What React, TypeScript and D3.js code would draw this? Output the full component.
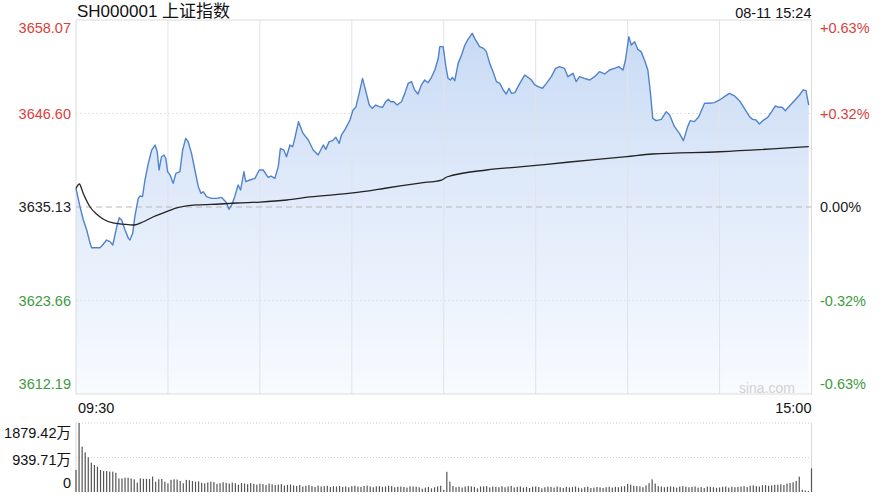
import React from "react";
import * as d3 from "d3";

// minute offsets from 09:30 (0..240, lunch break collapsed) and index values
const priceMinutes = [
  0, 1.3, 2.4, 3.5, 4.6, 5.1, 6.7, 7.8, 8.4, 10, 11.1, 12, 13.3, 14.1, 14.9, 16, 17.1, 17.6, 18.5, 19.2,
  19.8, 20.3, 20.9, 21.7, 22.5, 23.6, 24.7, 25.8, 26.5, 27.1, 27.9, 28.7, 29.3, 29.9, 30.7, 31.7, 32.6, 33.9, 34.8, 35.8,
  36.6, 37.7, 38.8, 39.9, 40.8, 41.5, 42.6, 44.2, 45.9, 47.5, 48.3, 49.1, 49.9, 50.8, 51.8, 52.9, 53.7, 54.8, 55.4, 56.7,
  58.4, 59.8, 61.1, 62.2, 62.7, 63.6, 64.9, 66, 66.7, 67.8, 68.7, 69.8, 70.7, 71.4, 72.6, 74.1, 75.8, 77.4, 79, 80.7,
  81.5, 82.6, 83.7, 84.8, 85.9, 86.6, 88, 89.4, 90.4, 91.3, 92.4, 93.5, 94.6, 95.7, 96.7, 97.8, 98.9, 100, 101.1, 101.9,
  102.7, 103.7, 104.8, 106.2, 107.3, 108.4, 109.5, 110.5, 111.6, 112.7, 113.8, 114.9, 116, 117.1, 118.2, 118.7, 119.8, 120.7, 121.4, 122.2,
  122.8, 123.6, 124.7, 125.8, 126.9, 127.9, 129.3, 130.1, 131.7, 133, 133.9, 135, 136.1, 137.2, 138.3, 139.4, 140.4, 141.3, 142.1, 143.2,
  144.8, 146.4, 147.5, 148.6, 149.7, 150.8, 152.2, 153.5, 155.1, 156.5, 157.8, 159.4, 160.5, 162.2, 163.2, 164.3, 165.9, 167.6, 169.2, 170.8,
  172.5, 174.1, 175.7, 177.1, 178.5, 179.3, 180.4, 181.2, 182.3, 183.3, 184.4, 185.5, 186.6, 187.4, 188.2, 189.3, 191, 192.6, 193.7, 195.3,
  196.9, 198.2, 199.6, 200.4, 201.8, 203.2, 205.1, 206.7, 208.3, 210, 211.6, 213.2, 214.9, 216.5, 218.1, 219.8, 220.8, 221.9, 223, 224.1,
  225.7, 227, 228.2, 229.5, 230.4, 231.5, 232.8, 234.4, 236.1, 237.2, 238.2, 239.1,
];
const prices = [
  3637.4, 3635.17, 3633.53, 3632.31, 3630.67, 3630.14, 3630.14, 3630.14, 3630.34, 3631.08, 3630.88, 3630.47, 3632.72, 3633.82, 3633.53, 3632.31, 3631.28, 3631.08, 3631.9, 3633.94,
  3635.17, 3636.19, 3636.48, 3636.4, 3638.44, 3640.48, 3642.12, 3642.73, 3641.92, 3639.67, 3641.3, 3641.51, 3641.1, 3639.46, 3639.05, 3638.03, 3639.26, 3639.46, 3642.12, 3643.55,
  3643.14, 3641.71, 3639.67, 3637.62, 3636.8, 3637.01, 3636.4, 3636.19, 3636.19, 3636.31, 3635.99, 3635.66, 3634.84, 3635.37, 3636.4, 3637.83, 3637.21, 3639.46, 3638.24, 3638.44,
  3638.64, 3639.67, 3639.67, 3639.05, 3638.77, 3638.93, 3638.64, 3640.08, 3642.32, 3642.12, 3641.3, 3642.73, 3642.53, 3643.55, 3645.6, 3644.16, 3643.35, 3642.12, 3641.51, 3642.74,
  3642.2, 3643.15, 3643.27, 3643.68, 3642.94, 3643.96, 3644.78, 3645.8, 3647.03, 3647.36, 3649.07, 3650.91, 3649.28, 3647.64, 3647.23, 3647.64, 3647.44, 3647.36, 3648.05, 3648.34,
  3648.05, 3648.05, 3647.64, 3648.05, 3649.07, 3650.3, 3650.51, 3649.48, 3648.99, 3650.1, 3650.71, 3650.38, 3651.04, 3651.94, 3653.37, 3654.8, 3654.8, 3652.35, 3650.91, 3650.71,
  3651.04, 3650.63, 3652.75, 3653.78, 3655.0, 3655.7, 3656.43, 3655.82, 3654.8, 3654.59, 3654.19, 3652.75, 3651.73, 3650.51, 3650.3, 3649.48, 3648.99, 3649.69, 3649.07, 3649.16,
  3650.3, 3651.32, 3651.04, 3650.71, 3650.1, 3649.89, 3649.69, 3650.3, 3651.12, 3652.14, 3652.35, 3652.14, 3651.12, 3651.53, 3650.51, 3651.12, 3650.91, 3650.71, 3651.12, 3651.73,
  3651.45, 3651.94, 3652.14, 3652.35, 3651.94, 3653.16, 3656.03, 3655.0, 3655.41, 3654.47, 3654.19, 3653.16, 3651.94, 3649.28, 3646.01, 3645.72, 3645.88, 3646.83, 3646.42, 3644.98,
  3644.17, 3643.27, 3644.99, 3645.72, 3645.6, 3646.21, 3647.85, 3647.85, 3647.93, 3648.26, 3648.67, 3649.07, 3648.75, 3648.17, 3647.23, 3646.21, 3645.88, 3645.8, 3645.31, 3645.72,
  3646.13, 3646.83, 3647.52, 3647.36, 3647.36, 3646.95, 3647.52, 3648.17, 3648.87, 3649.48, 3649.4, 3647.64,
];

// average price line
const avgMinutes = [0, 1.1, 2.3, 4.6, 6.7, 8.8, 12.1, 15.3, 18.6, 21.8, 25.1, 28.4, 32.9, 39.5, 47, 52.5, 60, 68.8, 76.3, 90.3, 101.4, 112.2, 119.3, 121, 134, 144.8, 161.1, 179.7, 188.1, 210, 239.1];
const avgPrices = [3637.4, 3637.95, 3636.85, 3635.13, 3634.27, 3633.66, 3633.17, 3633.04, 3632.92, 3633.29, 3633.9, 3634.39, 3635.01, 3635.38, 3635.5, 3635.62, 3635.74, 3635.99, 3636.36, 3636.85, 3637.46, 3638.07, 3638.44, 3638.81, 3639.67, 3640.04, 3640.65, 3641.3, 3641.63, 3641.91, 3642.53];

// volume per minute, in 万
const volumes = [
  600, 1879, 1235, 1080, 945, 800, 735, 690, 600, 570,
  570, 555, 555, 525, 370, 370, 390, 390, 370, 345,
  255, 370, 360, 360, 355, 420, 280, 345, 355, 280,
  235, 330, 345, 340, 300, 240, 330, 320, 300, 280,
  290, 250, 235, 260, 280, 270, 220, 240, 265, 250,
  230, 255, 240, 200, 245, 230, 210, 240, 220, 200,
  225, 215, 190, 230, 210, 190, 200, 215, 175, 195,
  205, 180, 165, 190, 150, 170, 185, 160, 140, 175,
  150, 160, 170, 135, 160, 150, 165, 140, 150, 130,
  160, 170, 150, 140, 165, 175, 150, 130, 155, 160,
  140, 150, 170, 160, 130, 145, 150, 140, 120, 155,
  150, 145, 130, 90, 120, 140, 100, 130, 150, 170,
  60, 550, 280, 165, 130, 145, 120, 150, 160, 155,
  140, 100, 150, 155, 160, 125, 150, 140, 130, 160,
  130, 150, 165, 125, 140, 150, 120, 135, 110, 140,
  150, 135, 100, 130, 145, 140, 120, 150, 130, 110,
  140, 125, 135, 150, 120, 100, 130, 145, 110, 120,
  135, 125, 110, 130, 145, 120, 140, 130, 150, 160,
  220, 200, 170, 160, 150, 130, 180, 240, 345, 230,
  160, 150, 130, 145, 155, 140, 120, 150, 160, 145,
  130, 140, 150, 120, 135, 110, 150, 140, 130, 115,
  125, 140, 150, 120, 145, 130, 140, 150, 160, 135,
  170, 180, 160, 150, 185, 190, 170, 180, 195, 200,
  210, 190, 230, 245, 265, 300, 420, 60, 40, 30,
  645,
];

const priceTicks = [3658.07, 3646.6, 3635.13, 3623.66, 3612.19];
const pctLabels = ["+0.63%", "+0.32%", "0.00%", "-0.32%", "-0.63%"];
const volTicks = [1879.42, 939.71, 0];
const volLabels = ["1879.42万", "939.71万", "0"];
const gridMinutes = [30, 60, 90, 120, 150, 180, 210];
const preClose = 3635.13;

const FONT = "'Liberation Sans', Arial, 'Noto Sans CJK SC', sans-serif";
const RED = "#d9413c";
const GREEN = "#3d9a3d";

export default function App() {
  const left = 76, right = 811.5, top = 20, bottom = 394;
  const vTop = 423, vBottom = 492;

  const x = d3.scaleLinear().domain([0, 240]).range([left, right]);
  const y = d3.scaleLinear().domain([3612.19, 3658.07]).range([bottom, top]);
  const vy = d3.scaleLinear().domain([0, 1879.42]).range([vBottom, vTop]);

  const line = d3.line<number>().x((_, i) => x(priceMinutes[i])).y((d) => y(d));
  const area = d3.area<number>().x((_, i) => x(priceMinutes[i])).y0(bottom).y1((d) => y(d));
  const avgLine = d3.line<number>().x((_, i) => x(avgMinutes[i])).y((d) => y(d)).curve(d3.curveMonotoneX);

  const labelColor = (i: number) => (i < 2 ? RED : i === 2 ? "#222" : GREEN);
  const tickOffset = (i: number) => (i === 0 ? 8 : i === priceTicks.length - 1 ? -10 : 0);
  const volOffset = [10, 2, -9];

  return (
    <svg width={889} height={500} style={{ position: "absolute", left: 0, top: 0, background: "#fff" }} fontFamily={FONT}>
      <defs>
        <linearGradient id="fillGrad" gradientUnits="userSpaceOnUse" x1="0" y1={top} x2="0" y2={bottom}>
          <stop offset="0%" stopColor="#c6d9f4" />
          <stop offset="40%" stopColor="#dde8f9" />
          <stop offset="100%" stopColor="#f8fbff" />
        </linearGradient>
      </defs>

      {/* price panel */}
      <rect x={left} y={top} width={right - left} height={bottom - top} fill="#fff" />
      <path d={area(prices) ?? ""} fill="url(#fillGrad)" />
      {gridMinutes.map((m) => (
        <line key={m} x1={x(m)} x2={x(m)} y1={top} y2={bottom} stroke="#dfe3ea" strokeWidth={1} />
      ))}
      {[priceTicks[1], priceTicks[3]].map((v) => (
        <line key={v} x1={left} x2={right} y1={y(v)} y2={y(v)} stroke="#e2e2e2" strokeDasharray="2,2" />
      ))}
      <line x1={left} x2={right} y1={y(preClose)} y2={y(preClose)} stroke="#b8b8b8" strokeDasharray="6,4" />
      <rect x={left} y={top} width={right - left} height={bottom - top} fill="none" stroke="#dcdcdc" />
      <path d={line(prices) ?? ""} fill="none" stroke="#4f83cc" strokeWidth={1.4} strokeLinejoin="round" />
      <path d={avgLine(avgPrices) ?? ""} fill="none" stroke="#222" strokeWidth={1.3} />

      <text x={left + 1} y={17} fontSize={17} fill="#111">SH000001 上证指数</text>
      <text x={right} y={18} fontSize={14.5} fill="#111" textAnchor="end">08-11 15:24</text>

      {priceTicks.map((v, i) => (
        <text key={v} x={71} y={y(v) + tickOffset(i)} dy="0.35em" fontSize={14.5} fill={labelColor(i)} textAnchor="end">
          {v.toFixed(2)}
        </text>
      ))}
      {pctLabels.map((t, i) => (
        <text key={t} x={820} y={y(priceTicks[i]) + tickOffset(i)} dy="0.35em" fontSize={14.5} fill={labelColor(i)}>
          {t}
        </text>
      ))}
      <text x={795} y={388} dy="0.35em" fontSize={14} fill="#d2d2d2" textAnchor="end">sina.com</text>

      <text x={left + 2} y={408} dy="0.35em" fontSize={14.5} fill="#111">09:30</text>
      <text x={right} y={408} dy="0.35em" fontSize={14.5} fill="#111" textAnchor="end">15:00</text>

      {/* volume panel */}
      {volTicks.slice(0, 2).map((v) => (
        <line key={v} x1={left} x2={right} y1={vy(v)} y2={vy(v)} stroke="#cfcfcf" strokeDasharray="1,2" />
      ))}
      <line x1={left} x2={left} y1={vTop} y2={vBottom} stroke="#d8d8d8" />
      <line x1={right} x2={right} y1={vTop} y2={vBottom} stroke="#d8d8d8" />
      {volumes.map((v, i) => (
        <rect key={i} x={x(i) - 0.6} y={vy(v)} width={1.2} height={vBottom - vy(v)} fill="#555" />
      ))}
      {volLabels.map((t, i) => (
        <text key={t} x={71} y={vy(volTicks[i]) + volOffset[i]} dy="0.35em" fontSize={14.5} fill="#111" textAnchor="end">
          {t}
        </text>
      ))}
    </svg>
  );
}
